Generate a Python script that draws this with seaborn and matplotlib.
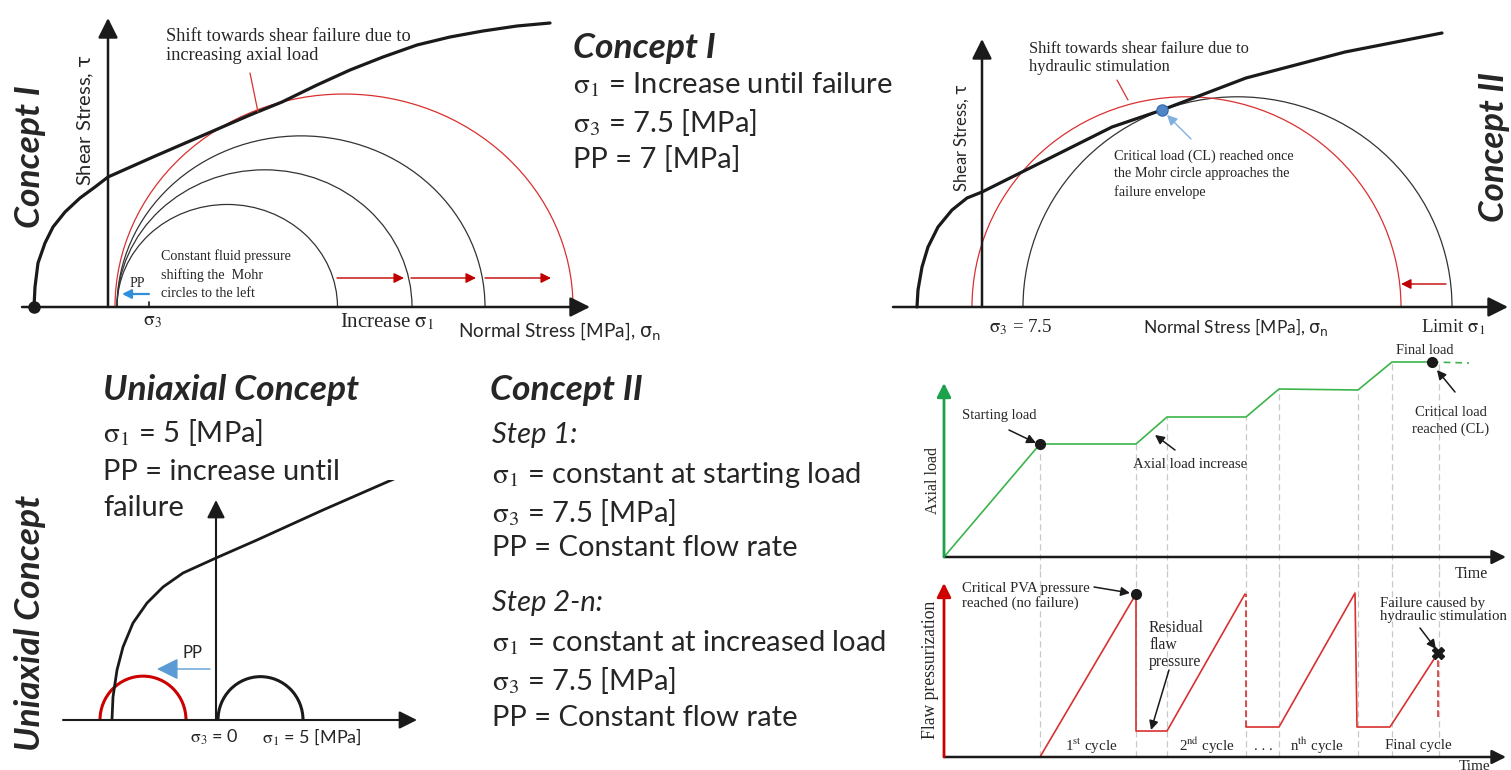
import numpy as np
import matplotlib.pyplot as plt
from matplotlib.patches import Arc
import seaborn as sns

# ---- Concept I (local units, origin where the axes cross)
c1_env_x = [-74, -73, -70, -63, -55, -43, -28, -13, 0, 45, 112, 142, 174, 209,
            242, 275, 309, 342, 375, 409, 442]
c1_env_y = [0, 20, 44, 64, 80, 95, 109, 120, 130, 150, 179, 192, 205, 222,
            237, 250, 262, 270, 276, 281, 284]
c1_sigma3 = [9, 9, 9, 7]
c1_sigma1 = [229.5, 304, 377, 465]
c1_shift_from = [229, 303, 377]
c1_shift_to = [296, 368, 443]

# ---- Concept II
c2_env_x = [-65, -64, -60, -54, -44, -30, -15, 0, 40, 80, 130, 180, 264, 363, 460]
c2_env_y = [0, 17, 40, 60, 80, 97, 109, 115, 135, 155, 180, 197, 229, 255, 274]
c2_sigma3 = [41, -10]
c2_sigma1 = [470, 419]
c2_critical = (180, 197)

# ---- Uniaxial concept
ux_env_x = [-104, -103, -99, -93, -83, -69, -53, -33, 0, 41, 107, 187]
ux_env_y = [1, 23, 50, 73, 97, 117, 133, 147, 162, 180, 210, 245]
ux_sigma3 = [2, -116]
ux_sigma1 = [87, -30]

# ---- loading history (time, axial load, flaw pressure)
load_t = [0, 96, 192, 223, 302, 335, 414, 448, 488]
load_v = [0, 113, 113, 140, 140, 168, 167, 195, 195]
stage_t = [96, 192, 223, 302, 335, 414, 448, 495]
press1_t = [0, 96, 192, 192, 223, 301]
press1_p = [0, 0, 163, 26, 26, 163]
press2_t = [302, 335, 411, 413, 446, 494]
press2_p = [30, 30, 164, 30, 30, 104]
drop_t = [301.5, 494]
drop_top = [163, 104]
drop_bottom = [30, 40]
cycle_labels = [r"1$^{\mathrm{st}}$ cycle", r"2$^{\mathrm{nd}}$ cycle", ". . .",
                r"n$^{\mathrm{th}}$ cycle", "Final cycle"]
cycle_x = [1091, 1207, 1263, 1317, 1418]

sns.set_theme(style="white")
plt.rcParams['font.family'] = ['Lato', 'DejaVu Sans']
plt.rcParams['mathtext.fontset'] = 'stix'

W, H = 1511, 770
fig = plt.figure(figsize=(W / 100, H / 100), dpi=100)
fig.patch.set_facecolor('white')

SERIF = ['Liberation Serif', 'DejaVu Serif']
RED = '#d93030'
DARKRED = '#c00000'
BLUE = '#5b9bd5'
GREEN = '#3cb44b'
GREY = '#c8c8c8'
HEAD = '-|>,head_length=0.6,head_width=0.3'
BIG = 25.5
BODY = 21


def panel(x0, y0, x1, y1, ox, oy):
    ax = fig.add_axes([x0 / W, 1 - y1 / H, (x1 - x0) / W, (y1 - y0) / H])
    ax.set_xlim(x0 - ox, x1 - ox)
    ax.set_ylim(oy - y1, oy - y0)
    ax.axis('off')
    return ax


def txt(x, y, s, size, **kw):
    kw.setdefault('va', 'center')
    fig.text(x / W, 1 - y / H, s, fontsize=size, **kw)


def arrow(ax, x0, y0, x1, y1, color='k', lw=1.8, ms=18, head=HEAD):
    ax.annotate('', xy=(x1, y1), xytext=(x0, y0),
                arrowprops=dict(arrowstyle=head, color=color, lw=lw, mutation_scale=ms,
                                shrinkA=0, shrinkB=0))


def mohr(ax, s3, s1, k, color, lw):
    ax.add_patch(Arc(((s1 + s3) / 2, 0), s1 - s3, (s1 - s3) * k, theta1=0, theta2=180,
                     color=color, lw=lw))


# ================= Concept I =================
ax1 = panel(0, 0, 600, 340, 108, 307)
arrow(ax1, -86, 0, 482, 0, ms=20)
arrow(ax1, 0, 0, 0, 289, ms=20)
for i, (s3, s1) in enumerate(zip(c1_sigma3, c1_sigma1)):
    mohr(ax1, s3, s1, 0.93, RED if i == 3 else '#333333', 0.9)
sns.lineplot(x=c1_env_x, y=c1_env_y, sort=False, estimator=None, color='k', lw=2.3, ax=ax1)
ax1.plot(c1_env_x[0], 0, 'o', color='k', ms=8)
for a, b in zip(c1_shift_from, c1_shift_to):
    arrow(ax1, a, 29, b, 29, color=DARKRED, lw=1, ms=10)
arrow(ax1, 41, 13, 14, 13, color='#2f8fdb', lw=1.6, ms=9)
ax1.plot([142, 150], [234, 195], color=RED, lw=0.9)
ax1.plot([40.5, 40.5], [0, 5], color='k', lw=1.2)

txt(166, 46, "Shift towards shear failure due to\nincreasing axial load", 13.2,
    family=SERIF, linespacing=1.15)
txt(161, 275, "Constant fluid pressure\nshifting the  Mohr\ncircles to the left", 10.1,
    family=SERIF, linespacing=1.5)
txt(137, 283, "PP", 10, family=SERIF, ha='center')
txt(152, 321, r"$\mathrm{\sigma}_3$", 14, ha='center')
txt(340, 322, r"Increase $\mathrm{\sigma}_1$", 15, family=SERIF)
txt(458, 331, r"Normal Stress [MPa], $\mathrm{\sigma}_\mathrm{n}$", 13.7, math_fontfamily='dejavusans')
txt(86, 120, r"Shear Stress, $\mathrm{\tau}$", 14.5, rotation=90, ha='center', math_fontfamily='dejavusans')
txt(30, 157, "Concept I", BIG, rotation=90, ha='center', weight='bold', style='italic')

txt(573, 48, "Concept I", BIG, weight='bold', style='italic')
txt(573, 85, r"$\mathrm{\sigma}_1$ = Increase until failure", BODY)
txt(573, 123, r"$\mathrm{\sigma}_3$ = 7.5 [MPa]", BODY)
txt(573, 160, "PP = 7 [MPa]", BODY)

# ================= Concept II (Mohr) =================
ax2 = panel(880, 0, 1511, 340, 982, 307)
arrow(ax2, -89, 0, 526, 0, ms=20)
arrow(ax2, 0, 0, 0, 268, ms=20)
for s3, s1, c in zip(c2_sigma3, c2_sigma1, ['#333333', RED]):
    mohr(ax2, s3, s1, 0.98, c, 0.9)
sns.lineplot(x=c2_env_x, y=c2_env_y, sort=False, estimator=None, color='k', lw=2.3, ax=ax2)
ax2.plot(*c2_critical, 'o', color='#4f86c6', mec='#3b6fb0', ms=8)
arrow(ax2, 209, 168, 185, 192, color='#7fb0e0', lw=1, ms=10)
arrow(ax2, 464, 23, 419, 23, color=DARKRED, lw=1, ms=10)
ax2.plot([135, 146], [227, 207], color=RED, lw=0.9)

txt(1029, 58, "Shift towards shear failure due to\nhydraulic stimulation", 11.9,
    family=SERIF, linespacing=1.2)
txt(1114, 174, "Critical load (CL) reached once\nthe Mohr circle approaches the\nfailure envelope",
    10.3, family=SERIF, linespacing=1.45)
txt(989, 327, r"$\mathrm{\sigma}_3$ = 7.5", 13.7, family=SERIF)
txt(1143, 327, r"Normal Stress [MPa], $\mathrm{\sigma}_\mathrm{n}$", 12.5, math_fontfamily='dejavusans')
txt(1421, 327, r"Limit $\mathrm{\sigma}_1$", 13.6, family=SERIF)
txt(962, 137, r"Shear Stress, $\mathrm{\tau}$", 12, rotation=90, ha='center', math_fontfamily='dejavusans')
txt(1494, 147, "Concept II", 25, rotation=90, ha='center', weight='bold', style='italic')

# ================= Uniaxial concept =================
ax3 = panel(40, 480, 460, 770, 216, 720)
arrow(ax3, -153, 0, 201, 0, lw=1.5)
arrow(ax3, 0, 0, 0, 220, lw=1.5)
sns.lineplot(x=ux_env_x, y=ux_env_y, sort=False, estimator=None, color='k', lw=2, ax=ax3)
for s3, s1, c in zip(ux_sigma3, ux_sigma1, ['k', '#cc0000']):
    mohr(ax3, s3, s1, 1.02, c, 2.2)
arrow(ax3, -6, 51, -59, 51, color=BLUE, lw=1, ms=22)

txt(103, 390, "Uniaxial Concept", BIG, weight='bold', style='italic')
txt(103, 433, r"$\mathrm{\sigma}_1$ = 5 [MPa]", BODY)
txt(103, 472, "PP = increase until", BODY)
txt(103, 508, "failure", BODY)
txt(193, 653, "PP", 12, ha='center')
txt(214, 737, r"$\mathrm{\sigma}_3$ = 0", 13, ha='center')
txt(312, 737, r"$\mathrm{\sigma}_1$ = 5 [MPa]", 13, ha='center')
txt(30, 623, "Uniaxial Concept", BIG, rotation=90, ha='center', weight='bold', style='italic')

# ================= Concept II text =================
txt(490, 390, "Concept II", BIG, weight='bold', style='italic')
txt(492, 435, "Step 1:", BODY, style='italic')
txt(492, 475, r"$\mathrm{\sigma}_1$ = constant at starting load", BODY)
txt(492, 512, r"$\mathrm{\sigma}_3$ = 7.5 [MPa]", BODY)
txt(492, 548, "PP = Constant flow rate", BODY)
txt(492, 603, "Step 2-n:", BODY, style='italic')
txt(492, 643, r"$\mathrm{\sigma}_1$ = constant at increased load", BODY)
txt(492, 680, r"$\mathrm{\sigma}_3$ = 7.5 [MPa]", BODY)
txt(492, 718, "PP = Constant flow rate", BODY)

# ================= Axial load history =================
ax4 = panel(900, 340, 1511, 570, 944, 557)
levels = np.interp(stage_t, load_t, load_v)
ax4.vlines(stage_t, -13, levels, color=GREY, lw=0.9, linestyles=(0, (5, 3)), zorder=0)
arrow(ax4, 0, 0, 562, 0, lw=1.8, ms=14)
arrow(ax4, 0, 0, 0, 174, color='#1aa34a', lw=2, ms=14)
sns.lineplot(x=load_t, y=load_v, sort=False, estimator=None, color=GREEN, lw=1.2, ax=ax4)
ax4.plot([load_t[-1], 525], [load_v[-1], 194], color=GREEN, lw=1.2, ls=(0, (4, 3)))
ax4.plot([load_t[1], load_t[-1]], [load_v[1], load_v[-1]], 'o', color='k', ms=7, ls='none')
arrow(ax4, 65, 127, 92, 114, lw=1.1, ms=9)
arrow(ax4, 231, 107, 211, 122, lw=1.1, ms=9)
arrow(ax4, 511, 165, 493, 187, lw=1.1, ms=9)

txt(962, 415, "Starting load", 10.5, family=SERIF)
txt(1133, 464, "Axial load increase", 10.6, family=SERIF)
txt(1396, 351, "Final load", 10.4, family=SERIF)
txt(1451, 421, "Critical load\nreached (CL)", 10.5, family=SERIF, ha='center', linespacing=1.25)
txt(933, 480, "Axial load", 11.5, family=SERIF, rotation=90, ha='center')
txt(1471, 574, "Time", 11.5, family=SERIF, ha='center')

# ================= Flaw pressurization =================
ax5 = panel(900, 570, 1511, 770, 944, 757)
ax5.vlines(stage_t, 0, 187, color=GREY, lw=0.9, linestyles=(0, (5, 3)), zorder=0)
arrow(ax5, 0, 0, 562, 0, lw=1.8, ms=14)
arrow(ax5, 0, 0, 0, 174, color='#cc0000', lw=2, ms=14)
ax5.plot(press1_t, press1_p, color=RED, lw=1.2)
ax5.plot(press2_t, press2_p, color=RED, lw=1.2)
ax5.vlines(drop_t, drop_bottom, drop_top, color=RED, lw=1.2, linestyles=(0, (4, 2)))
ax5.plot(press1_t[2], press1_p[2], 'o', color='k', ms=7)
ax5.plot(press2_t[-1], press2_p[-1], 'X', color='k', ms=8)
arrow(ax5, 150, 170, 186, 164, lw=1.1, ms=9)
arrow(ax5, 225, 87, 207, 27, lw=1.1, ms=9)
arrow(ax5, 476, 129, 492, 108, lw=1.1, ms=9)

txt(962, 596, "Critical PVA pressure\nreached (no failure)", 10.6, family=SERIF, linespacing=1.15)
txt(1149, 645, "Residual\nflaw\npressure", 11.3, family=SERIF, linespacing=1.1)
txt(1380, 610, "Failure caused by\nhydraulic stimulation", 10.7, family=SERIF, linespacing=1.05)
for lab, x in zip(cycle_labels, cycle_x):
    txt(x, 746, lab, 10.8, family=SERIF, ha='center')
txt(931, 670, "Flaw pressurization", 12.7, family=SERIF, rotation=90, ha='center')
txt(1475, 760, "Time", 11, family=SERIF, ha='center', va='top')

fig.savefig('out.png', dpi=100, facecolor='white')
